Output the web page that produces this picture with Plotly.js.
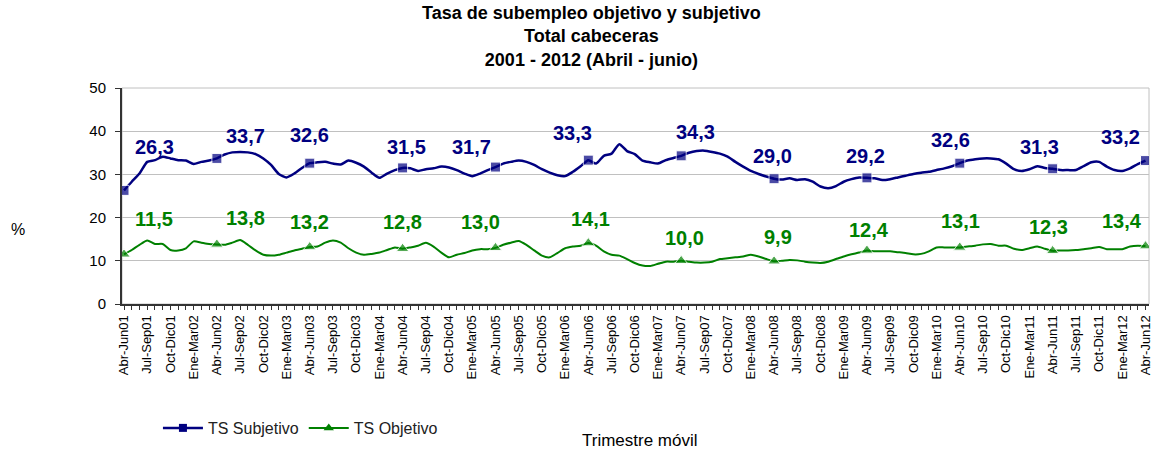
<!DOCTYPE html>
<html>
<head>
<meta charset="utf-8">
<script src="https://cdn.plot.ly/plotly-3.0.1.min.js"></script>
<style>html,body{margin:0;padding:0;background:#fff;}#chart{width:1152px;height:456px;}</style>
</head>
<body>
<div id="chart"></div>
<script>
var categories = [
"Abr-Jun01","May-Jul01","Jun-Ago01","Jul-Sep01","Ago-Oct01","Sep-Nov01","Oct-Dic01","Nov-Ene02","Dic-Feb02",
"Ene-Mar02","Feb-Abr02","Mar-May02","Abr-Jun02","May-Jul02","Jun-Ago02","Jul-Sep02","Ago-Oct02","Sep-Nov02","Oct-Dic02","Nov-Ene03","Dic-Feb03",
"Ene-Mar03","Feb-Abr03","Mar-May03","Abr-Jun03","May-Jul03","Jun-Ago03","Jul-Sep03","Ago-Oct03","Sep-Nov03","Oct-Dic03","Nov-Ene04","Dic-Feb04",
"Ene-Mar04","Feb-Abr04","Mar-May04","Abr-Jun04","May-Jul04","Jun-Ago04","Jul-Sep04","Ago-Oct04","Sep-Nov04","Oct-Dic04","Nov-Ene05","Dic-Feb05",
"Ene-Mar05","Feb-Abr05","Mar-May05","Abr-Jun05","May-Jul05","Jun-Ago05","Jul-Sep05","Ago-Oct05","Sep-Nov05","Oct-Dic05","Nov-Ene06","Dic-Feb06",
"Ene-Mar06","Feb-Abr06","Mar-May06","Abr-Jun06","May-Jul06","Jun-Ago06","Jul-Sep06","Ago-Oct06","Sep-Nov06","Oct-Dic06","Nov-Ene07","Dic-Feb07",
"Ene-Mar07","Feb-Abr07","Mar-May07","Abr-Jun07","May-Jul07","Jun-Ago07","Jul-Sep07","Ago-Oct07","Sep-Nov07","Oct-Dic07","Nov-Ene08","Dic-Feb08",
"Ene-Mar08","Feb-Abr08","Mar-May08","Abr-Jun08","May-Jul08","Jun-Ago08","Jul-Sep08","Ago-Oct08","Sep-Nov08","Oct-Dic08","Nov-Ene09","Dic-Feb09",
"Ene-Mar09","Feb-Abr09","Mar-May09","Abr-Jun09","May-Jul09","Jun-Ago09","Jul-Sep09","Ago-Oct09","Sep-Nov09","Oct-Dic09","Nov-Ene10","Dic-Feb10",
"Ene-Mar10","Feb-Abr10","Mar-May10","Abr-Jun10","May-Jul10","Jun-Ago10","Jul-Sep10","Ago-Oct10","Sep-Nov10","Oct-Dic10","Nov-Ene11","Dic-Feb11",
"Ene-Mar11","Feb-Abr11","Mar-May11","Abr-Jun11","May-Jul11","Jun-Ago11","Jul-Sep11","Ago-Oct11","Sep-Nov11","Oct-Dic11","Nov-Ene12","Dic-Feb12",
"Ene-Mar12","Feb-Abr12","Mar-May12","Abr-Jun12"
];

var tsSubjetivo = [
26.3,28.3,30.2,32.9,33.3,34.1,33.7,33.3,33.2,32.4,32.9,33.2,
33.7,34.6,35.1,35.2,35.1,34.7,33.7,32.2,30.1,29.3,30.2,31.5,
32.6,32.8,32.9,32.5,32.3,33.2,32.7,31.8,30.4,29.2,30.2,31.0,
31.5,31.4,30.8,31.2,31.4,31.8,31.6,31.0,30.2,29.6,30.2,31.0,
31.7,32.5,32.9,33.2,32.9,32.2,31.2,30.4,29.8,29.6,30.6,31.9,
33.3,32.5,34.3,34.8,37.0,35.4,34.7,33.2,32.8,32.5,33.3,33.8,
34.3,35.0,35.4,35.5,35.2,34.8,34.1,32.9,31.8,30.8,30.1,29.5,
29.0,28.8,29.1,28.7,28.9,28.3,27.2,26.8,27.3,28.3,28.9,29.3,
29.2,29.1,28.7,28.9,29.3,29.7,30.1,30.4,30.6,31.0,31.4,31.9,
32.6,33.2,33.5,33.7,33.7,33.5,32.5,31.2,30.8,31.2,31.9,31.5,
31.3,31.0,31.0,31.0,31.9,32.8,32.9,31.8,31.0,30.8,31.4,32.4,
33.2
];

var tsObjetivo = [
11.5,12.5,13.7,14.7,13.9,13.9,12.5,12.4,12.9,14.5,14.2,13.9,
13.8,13.7,14.2,14.8,13.7,12.4,11.4,11.2,11.4,11.9,12.4,12.8,
13.2,13.3,14.2,14.7,14.2,12.9,11.9,11.4,11.6,11.9,12.5,13.1,
12.8,13.1,13.5,14.2,13.3,11.9,10.8,11.4,11.8,12.4,12.7,12.7,
13.0,13.7,14.2,14.6,13.7,12.4,11.2,10.8,11.8,12.9,13.3,13.5,
14.1,13.5,12.2,11.4,11.2,10.4,9.5,8.9,8.8,9.3,9.8,9.8,
10.0,9.8,9.6,9.6,9.8,10.4,10.6,10.8,11.0,11.4,11.0,10.4,
9.9,10.0,10.2,10.1,9.8,9.6,9.5,9.8,10.4,11.0,11.5,11.9,
12.4,12.2,12.2,12.2,12.0,11.8,11.5,11.6,12.2,13.1,13.1,13.1,
13.1,13.3,13.5,13.8,13.9,13.5,13.5,12.8,12.5,12.9,13.3,12.8,
12.3,12.4,12.4,12.5,12.7,12.9,13.2,12.7,12.7,12.7,13.3,13.5,
13.4
];

var seriesNames = ["TS Subjetivo", "TS Objetivo"];

// styling: pixel offsets of the value labels (Abr-Jun of each year)
var subjLabelShift = [[30,43],[29,22],[0,28],[4,21],[-24,20],[-16,27],[14,24],[-2,23],[-1,22],[-9,23],[-13,22],[-25,24]];
var objLabelShift  = [[30,35],[29,26],[0,25],[0,27],[-15,26],[2,24],[3,23],[4,24],[2,20],[1,26],[-4,24],[-24,25]];

var BLUE = "#000080", GREEN = "#008000";
var FONT = "Liberation Sans, Arial, sans-serif";

function isAnnual(c) { return c.indexOf("Abr-Jun") === 0; }
var subjSizes = categories.map(function (c) { return isAnnual(c) ? 10 : 0; });
var objSizes = categories.map(function (c) { return isAnnual(c) ? 11 : 0; });

var traces = [
  {x: categories, y: tsSubjetivo, type: "scatter", mode: "lines+markers", showlegend: false,
   line: {color: BLUE, width: 2.5, shape: "spline", smoothing: 0.6},
   marker: {symbol: "square", size: subjSizes, color: BLUE}, hoverinfo: "x+y"},
  {x: categories, y: tsObjetivo, type: "scatter", mode: "lines+markers", showlegend: false,
   line: {color: GREEN, width: 2, shape: "spline", smoothing: 0.6},
   marker: {symbol: "triangle-up", size: objSizes, color: GREEN}, hoverinfo: "x+y"},
  {x: [null], y: [null], type: "scatter", mode: "lines+markers", name: seriesNames[0],
   line: {color: BLUE, width: 2.5}, marker: {symbol: "square", size: 8, color: BLUE}},
  {x: [null], y: [null], type: "scatter", mode: "lines+markers", name: seriesNames[1],
   line: {color: GREEN, width: 2}, marker: {symbol: "triangle-up", size: 9, color: GREEN}}
];

var annotations = [];
var k = 0;
categories.forEach(function (c, i) {
  if (!isAnnual(c)) return;
  annotations.push({x: c, y: tsSubjetivo[i], xref: "x", yref: "y", showarrow: false,
    text: tsSubjetivo[i].toFixed(1).replace(".", ","), xshift: subjLabelShift[k][0], yshift: subjLabelShift[k][1],
    xanchor: "center", yanchor: "middle", font: {family: FONT, size: 20, color: BLUE, weight: "bold"}});
  annotations.push({x: c, y: tsObjetivo[i], xref: "x", yref: "y", showarrow: false,
    text: tsObjetivo[i].toFixed(1).replace(".", ","), xshift: objLabelShift[k][0], yshift: objLabelShift[k][1],
    xanchor: "center", yanchor: "middle", font: {family: FONT, size: 20, color: GREEN, weight: "bold"}});
  k++;
});
annotations.push({text: "%", xref: "paper", yref: "paper", x: -0.101, y: 0.343, showarrow: false,
  xanchor: "center", yanchor: "middle", font: {family: FONT, size: 16, color: "#000"}});
annotations.push({text: "Trimestre móvil", xref: "paper", yref: "paper", x: 0.504, y: -0.634, showarrow: false,
  xanchor: "center", yanchor: "middle", font: {family: FONT, size: 17, color: "#000"}});
annotations.push({text: "<b>Tasa de subempleo objetivo y subjetivo<br>Total cabeceras<br>2001 - 2012 (Abril - junio)</b>",
  xref: "paper", yref: "paper", x: (592 - 122) / 1028, y: (304 - 37) / 216, showarrow: false,
  xanchor: "center", yanchor: "middle", align: "center", font: {family: FONT, size: 18, color: "#000"}});

var tickText = categories.map(function (c, i) { return i % 3 === 0 ? c : ""; });

var layout = {
  width: 1152, height: 456,
  margin: {l: 122, r: 3, t: 88, b: 152},
  paper_bgcolor: "#fff", plot_bgcolor: "#fff",
  font: {family: FONT, color: "#000"},
  xaxis: {type: "category", range: [-0.26, 132.45], tickmode: "array", tickvals: categories, ticktext: tickText,
    tickangle: -90, tickfont: {family: FONT, size: 13, color: "#000"},
    ticks: "outside", ticklen: 4, tickwidth: 1, tickcolor: "#333",
    showline: true, linecolor: "#333", linewidth: 2, showgrid: false, zeroline: false, fixedrange: true},
  yaxis: {range: [0, 50], tickvals: [0, 10, 20, 30, 40, 50], tickfont: {family: FONT, size: 15, color: "#000"},
    ticks: "outside", ticklen: 5, tickwidth: 1, tickcolor: "#333", ticklabelstandoff: 6,
    showline: true, linecolor: "#333", linewidth: 2, showgrid: true, gridcolor: "#c0c0c0", gridwidth: 1,
    zeroline: false, fixedrange: true},
  legend: {orientation: "h", x: 0.035, xanchor: "left", y: -0.574, yanchor: "middle",
    font: {family: FONT, size: 16, color: "#222"}, bgcolor: "rgba(0,0,0,0)", itemwidth: 40},
  shapes: [{type: "rect", xref: "paper", yref: "paper", x0: 0, x1: 1, y0: 0, y1: 1,
    line: {color: "#c0c0c0", width: 1}, layer: "below"}],
  annotations: annotations,
  showlegend: true
};

Plotly.newPlot("chart", traces, layout, {displayModeBar: false, staticPlot: true});
</script>
</body>
</html>
